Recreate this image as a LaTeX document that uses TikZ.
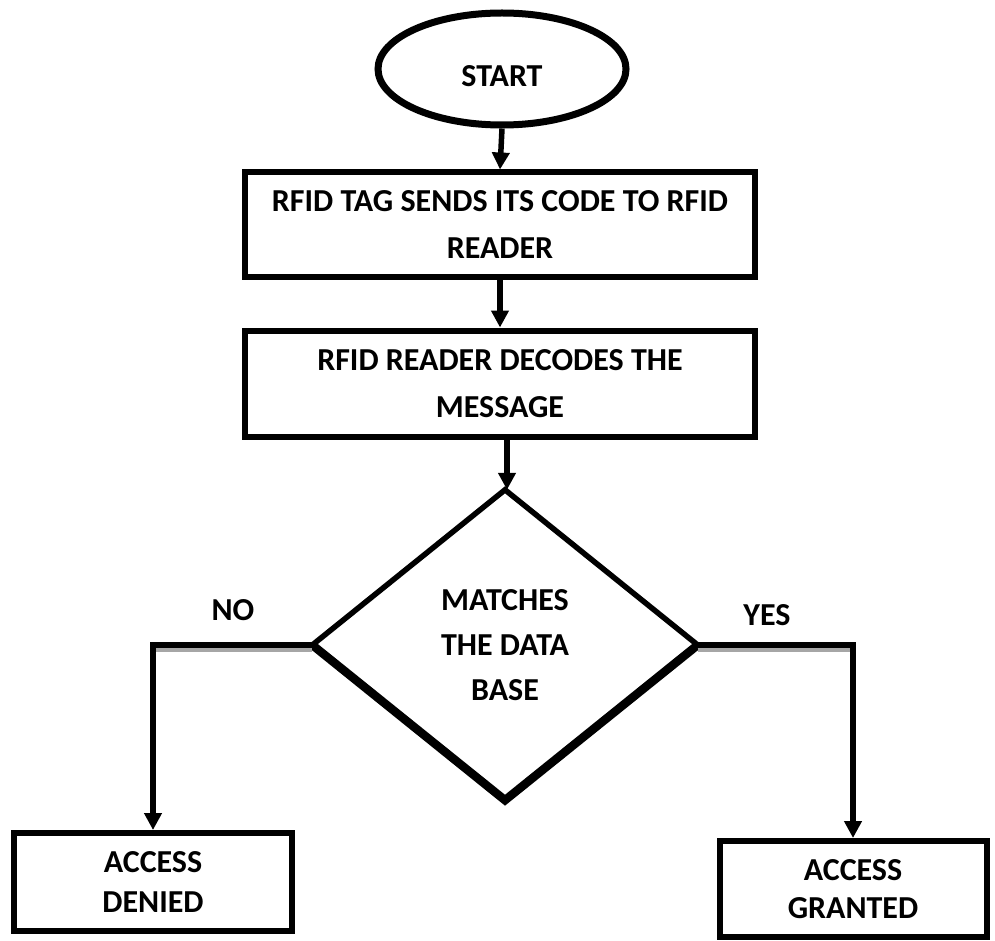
\documentclass[tikz,border=0pt]{standalone}
\usepackage{fontspec}
\setmainfont{Carlito}
\usetikzlibrary{shapes.geometric,arrows.meta}
\tikzset{
  lbl/.style={font=\fontsize{32}{47}\selectfont\bfseries, align=center, inner sep=0},
  procbox/.style={draw, line width=6pt, rectangle, inner sep=0, font=\fontsize{32}{47}\selectfont\bfseries, align=center},
  conn/.style={line width=5.5pt, -{Triangle[length=17pt,width=17pt]}},
  shade/.style={draw=black!35, line width=4pt},
}
\begin{document}
\begin{tikzpicture}[x=1pt,y=-1pt]
\useasboundingbox (0,0) rectangle (995,941);
\node[draw, ellipse, line width=7pt, minimum width=248pt, minimum height=112pt, inner sep=0, lbl, text height=35pt, text depth=0pt] (start) at (502,69) {START};
\node[procbox, minimum width=510pt, minimum height=104pt] (tag) at (500,224.5) {RFID TAG SENDS ITS CODE TO RFID\\READER};
\node[procbox, minimum width=510pt, minimum height=106pt] (dec) at (500,383.5) {RFID READER DECODES THE\\MESSAGE};
\node[diamond, minimum width=385pt, minimum height=310pt, inner sep=0, font=\fontsize{32}{45}\selectfont\bfseries, align=center] (dia) at (505,645) {MATCHES\\THE DATA\\BASE};
\draw[line width=5.5pt, line join=miter] (dia.west) -- (dia.north) -- (dia.east);
\draw[line width=8.5pt, line join=miter] (dia.west) -- (dia.south) -- (dia.east);
\node[procbox, minimum width=278pt, minimum height=98pt, font=\fontsize{32}{40}\selectfont\bfseries] (denied) at (153,882) {ACCESS\\DENIED};
\node[procbox, minimum width=267pt, minimum height=96pt, font=\fontsize{32}{38}\selectfont\bfseries] (granted) at (853,889) {ACCESS\\GRANTED};
\node[lbl] (no) at (233,610) {NO};
\node[lbl] (yes) at (767,615) {YES};
\draw[conn] (start.south) -- (tag.north);
\draw[conn] (tag.south) -- (dec.north);
\draw[conn] ([xshift=7pt]dec.south) -- ([xshift=2pt]dia.north);
\coordinate (nocorner) at (dia.west -| denied.north);
\coordinate (yescorner) at (dia.east -| granted.north);
\draw[shade] ([yshift=-5pt]dia.west) -- ([yshift=-5pt,xshift=2pt]nocorner);
\draw[shade] ([yshift=-5pt]dia.east) -- ([yshift=-5pt,xshift=-2pt]yescorner);
\draw[conn, line join=miter] (dia.west) -- (nocorner) -- (denied.north);
\draw[conn, line join=miter] (dia.east) -- (yescorner) -- (granted.north);
\end{tikzpicture}
\end{document}
